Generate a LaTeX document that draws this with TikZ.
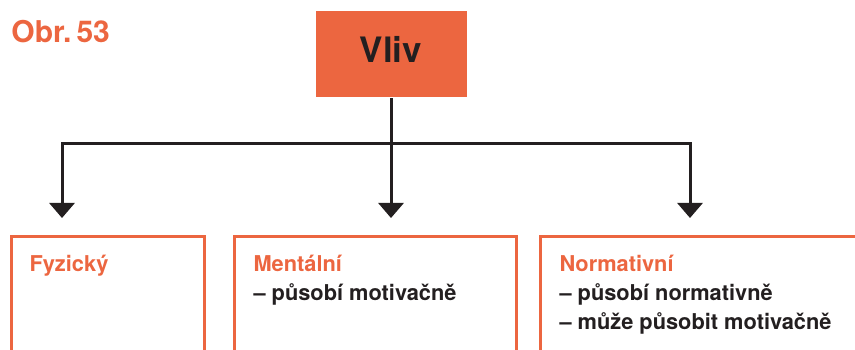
\documentclass[tikz,border=0pt]{standalone}
\usepackage{fontspec}
\setmainfont{TeX Gyre Heros}
\usepackage{xcolor}
\usetikzlibrary{arrows.meta}
\definecolor{obrorange}{HTML}{EC6640}
\definecolor{obrblack}{HTML}{231F20}
\tikzstyle{vlivbox} = [rectangle, fill=obrorange, minimum width=151pt, minimum height=86pt, text height=25pt, text depth=7pt, font=\fontsize{35}{40}\selectfont\bfseries, text=obrblack]
\tikzstyle{ramec} = [rectangle, draw=obrorange, line width=3pt, anchor=north west, minimum height=140pt]
\tikzstyle{druh} = [anchor=north west, align=left, inner sep=0pt, font=\fontsize{21.8}{29}\selectfont\bfseries, text=obrblack]
\newcommand{\prvni}{\rule{0pt}{20pt}}

\begin{document}
\begin{tikzpicture}[x=1pt,y=-1pt,line width=3pt,draw=obrblack,>={Triangle[width=25pt,length=15pt]}]
  \useasboundingbox (0,0) rectangle (855,350);
  \node[anchor=base west, inner sep=0pt, text=obrorange, font=\fontsize{30}{34}\selectfont\bfseries] (Obr) at (10,43) {Obr.\,53};
  \node[vlivbox] (Vliv) at (391,54) {Vliv};

  % ramce
  \node[ramec, minimum width=193pt] (Fyz) at (10,235) {};
  \node[ramec, minimum width=282pt] (Men) at (233,235) {};
  \node[ramec, minimum width=340pt] (Nor) at (539,235) {};

  \node[druh] (FyzT) at (28,250) {\prvni\textcolor{obrorange}{Fyzický}};
  \node[druh] (MenT) at (252,250) {\prvni\textcolor{obrorange}{Mentální}\\– působí motivačně};
  \node[druh] (NorT) at (558,250) {\prvni\textcolor{obrorange}{Normativní}\\– působí normativně\\– může působit motivačně};

  % rozvetveni
  \coordinate (rozM) at (391,144);
  \coordinate (FyzIn) at (62,218);
  \coordinate (MenIn) at (391,218);
  \coordinate (NorIn) at (690,218);

  \draw[->] (rozM) -| (FyzIn);
  \draw[->] (rozM) -| (NorIn);
  \draw[->] (Vliv.south) -- (MenIn);
\end{tikzpicture}
\end{document}
